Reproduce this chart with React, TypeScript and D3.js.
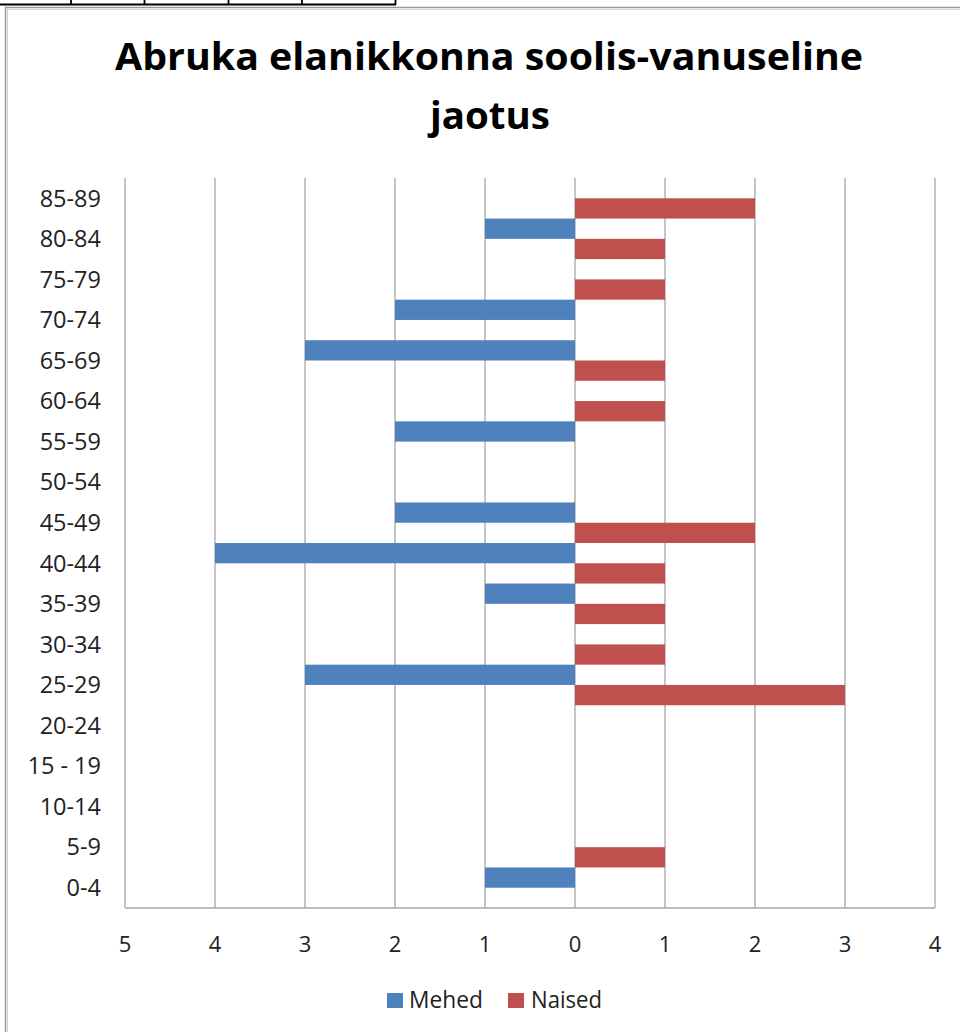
import React from "react";
import * as d3 from "d3";

const categories = ["85-89","80-84","75-79","70-74","65-69","60-64","55-59","50-54","45-49","40-44","35-39","30-34","25-29","20-24","15 - 19","10-14","5-9","0-4"];
const mehed = [0,1,0,2,3,0,2,0,2,4,1,0,3,0,0,0,0,1];
const naised = [2,1,1,0,1,1,0,0,2,1,1,1,3,0,0,0,1,0];
const tickValues = [-5,-4,-3,-2,-1,0,1,2,3,4];
const seriesNames = ["Mehed","Naised"];
const colors = ["#4F81BD","#C0504D"];

export default function App() {
  const W = 960, H = 1032;
  const x = d3.scaleLinear().domain([-5, 4]).range([125, 935]);
  const y = d3.scaleBand().domain(categories).range([178, 908]).paddingInner(0).paddingOuter(0);
  const sub = d3.scaleBand().domain(seriesNames).range([0, y.bandwidth()]);
  const font = "'Open Sans', 'Liberation Sans', sans-serif";
  return (
    <svg width={W} height={H} style={{ position: "absolute", left: 0, top: 0, background: "#fff" }} fontFamily={font}>
      {/* table fragment at top */}
      <line x1={0} x2={396} y1={4.5} y2={4.5} stroke="#000" strokeWidth={2} />
      {[71, 144.5, 228.5, 302, 395.5].map((vx, i) => (
        <line key={i} x1={vx} x2={vx} y1={0} y2={5} stroke="#000" strokeWidth={1.8} />
      ))}
      {/* chart frame */}
      <line x1={5.5} x2={5.5} y1={7} y2={H} stroke="#9a9a9a" strokeWidth={1.5} />
      <line x1={7.5} x2={7.5} y1={8} y2={H} stroke="#cfcfcf" strokeWidth={1} />
      <line x1={5} x2={W} y1={7.5} y2={7.5} stroke="#9a9a9a" strokeWidth={1.5} />
      <line x1={7} x2={W} y1={9.5} y2={9.5} stroke="#d8d8d8" strokeWidth={1} />
      {/* title */}
      <text x={489} y={70} textAnchor="middle" fontSize={37} fontWeight="bold" fill="#000" textLength={748} lengthAdjust="spacingAndGlyphs">Abruka elanikkonna soolis-vanuseline</text>
      <text x={490} y={129} textAnchor="middle" fontSize={37} fontWeight="bold" fill="#000" textLength={120} lengthAdjust="spacingAndGlyphs">jaotus</text>
      {/* gridlines */}
      {tickValues.map((t) => (
        <line key={t} x1={x(t)} x2={x(t)} y1={178} y2={908} stroke="#a6a6a6" strokeWidth={1.3} />
      ))}
      <line x1={125} x2={935} y1={908} y2={908} stroke="#a6a6a6" strokeWidth={1.3} />
      {/* bars */}
      {categories.map((c, i) => (
        <g key={c}>
          {mehed[i] > 0 && (
            <rect x={x(-mehed[i])} y={(y(c) as number) + (sub("Mehed") as number)} width={x(0) - x(-mehed[i])} height={sub.bandwidth()} fill={colors[0]} />
          )}
          {naised[i] > 0 && (
            <rect x={x(0)} y={(y(c) as number) + (sub("Naised") as number)} width={x(naised[i]) - x(0)} height={sub.bandwidth()} fill={colors[1]} />
          )}
        </g>
      ))}
      {/* category labels */}
      {categories.map((c) => (
        <text key={c} x={101} y={(y(c) as number) + y.bandwidth() / 2} dy="0.35em" textAnchor="end" fontSize={23.5} fill="#222">{c}</text>
      ))}
      {/* x tick labels */}
      {tickValues.map((t, i) => (
        <text key={i} x={x(t)} y={944} dy="0.35em" textAnchor="middle" fontSize={22} fill="#222">{Math.abs(t)}</text>
      ))}
      {/* legend */}
      <rect x={387} y={993} width={16} height={15} fill={colors[0]} />
      <text x={409} y={1000} dy="0.35em" fontSize={23} fill="#222" textLength={74} lengthAdjust="spacingAndGlyphs">Mehed</text>
      <rect x={508} y={993} width={16} height={15} fill={colors[1]} />
      <text x={531} y={1000} dy="0.35em" fontSize={23} fill="#222" textLength={71} lengthAdjust="spacingAndGlyphs">Naised</text>
    </svg>
  );
}
